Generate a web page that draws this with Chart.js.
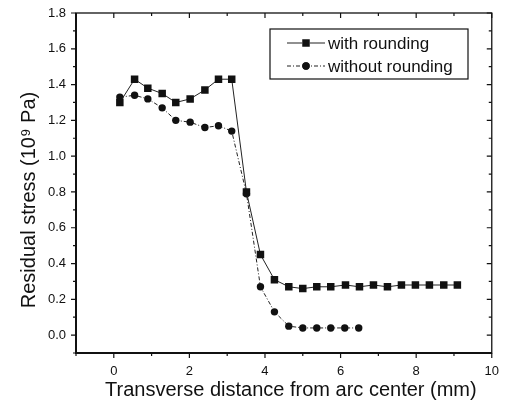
<!DOCTYPE html>
<html>
<head>
<meta charset="utf-8">
<script src="https://cdn.jsdelivr.net/npm/chart.js@4/dist/chart.umd.min.js"></script>
<style>
  html, body { margin: 0; padding: 0; background: #fff; }
  #wrap { width: 505px; height: 411px; }
</style>
</head>
<body>
<div id="wrap"><canvas id="stressChart" width="505" height="411"></canvas></div>
<script>
// values (x in mm, stress in 10^9 Pa)
const xWithRounding = [0.16, 0.55, 0.90, 1.28, 1.64, 2.02, 2.41, 2.77, 3.12, 3.51, 3.88, 4.25,
  4.63, 5.00, 5.37, 5.74, 6.13, 6.50, 6.87, 7.24, 7.61, 7.98, 8.35, 8.73, 9.09];
const yWithRounding = [1.30, 1.43, 1.38, 1.35, 1.30, 1.32, 1.37, 1.43, 1.43, 0.80, 0.45, 0.31,
  0.27, 0.26, 0.27, 0.27, 0.28, 0.27, 0.28, 0.27, 0.28, 0.28, 0.28, 0.28, 0.28];

const xWithoutRounding = [0.16, 0.55, 0.90, 1.28, 1.64, 2.02, 2.41, 2.77, 3.12, 3.51, 3.88, 4.25,
  4.63, 5.00, 5.37, 5.74, 6.11, 6.48];
const yWithoutRounding = [1.33, 1.34, 1.32, 1.27, 1.20, 1.19, 1.16, 1.17, 1.14, 0.79, 0.27, 0.13,
  0.05, 0.04, 0.04, 0.04, 0.04, 0.04];

const seriesNames = ['with rounding', 'without rounding'];
const xMajorLabels = [0, 2, 4, 6, 8, 10];
const yMajorLabels = ['0.0', '0.2', '0.4', '0.6', '0.8', '1.0', '1.2', '1.4', '1.6', '1.8'];
const xTitle = 'Transverse distance from arc center (mm)';
const yTitle = 'Residual stress (10\u2079 Pa)';

const pairUp = (xs, ys) => xs.map((x, i) => ({ x, y: ys[i] }));
const ink = '#111';
const family = '"Liberation Sans", Arial, sans-serif';

// box + tick marks on all four sides (out on left/bottom, in on top/right)
const frameTicks = {
  id: 'frameTicks',
  beforeDatasetsDraw(chart) {
    const { ctx, chartArea: a, scales: { x, y } } = chart;
    ctx.save();
    ctx.strokeStyle = ink;
    ctx.lineWidth = 1.3;
    ctx.strokeRect(a.left, a.top, a.right - a.left, a.bottom - a.top);
    ctx.lineWidth = 2;
    ctx.beginPath();
    ctx.moveTo(a.left, a.top); ctx.lineTo(a.left, a.bottom); ctx.lineTo(a.right, a.bottom);
    ctx.stroke();
    ctx.lineWidth = 1.2;
    ctx.beginPath();
    for (let v = -1; v <= 10; v++) {
      const px = x.getPixelForValue(v);
      const len = v % 2 === 0 ? 5 : 3;
      ctx.moveTo(px, a.bottom); ctx.lineTo(px, a.bottom + len);
      ctx.moveTo(px, a.top); ctx.lineTo(px, a.top + len);
    }
    for (let k = -1; k <= 18; k++) {
      const py = y.getPixelForValue(k / 10);
      const len = k % 2 === 0 ? 5 : 3;
      ctx.moveTo(a.left, py); ctx.lineTo(a.left - len, py);
      ctx.moveTo(a.right, py); ctx.lineTo(a.right - len, py);
    }
    ctx.stroke();

    // axis titles, placed like the scanned figure (a bit off-centre)
    ctx.fillStyle = ink;
    ctx.font = '20px ' + family;
    ctx.textAlign = 'center';
    ctx.textBaseline = 'middle';
    ctx.fillText(xTitle, (a.left + a.right) / 2 + 7, a.bottom + 37);
    ctx.translate(29, (a.top + a.bottom) / 2 + 17);
    ctx.rotate(-Math.PI / 2);
    ctx.fillText(yTitle, 0, 0);
    ctx.restore();
  }
};

// legend box drawn inside the plot, like the original
const boxLegend = {
  id: 'boxLegend',
  afterDatasetsDraw(chart) {
    const { ctx } = chart;
    const left = 270, top = 29, right = 468, bottom = 79;
    ctx.save();
    ctx.fillStyle = '#fff';
    ctx.fillRect(left, top, right - left, bottom - top);
    ctx.strokeStyle = ink;
    ctx.lineWidth = 1.2;
    ctx.strokeRect(left, top, right - left, bottom - top);
    chart.data.datasets.forEach((ds, i) => {
      const cy = i === 0 ? 43 : 66;
      ctx.strokeStyle = ds.borderColor;
      ctx.lineWidth = 1.2;
      ctx.setLineDash(ds.borderDash || []);
      ctx.beginPath();
      ctx.moveTo(287, cy); ctx.lineTo(325, cy);
      ctx.stroke();
      ctx.setLineDash([]);
      Chart.helpers.drawPoint(ctx, {
        pointStyle: ds.pointStyle, radius: ds.pointRadius, rotation: 0, borderWidth: 0
      }, 306, cy);
      ctx.fillStyle = ink;
      ctx.fill();
      ctx.font = '17px ' + family;
      ctx.textBaseline = 'middle';
      ctx.fillText(ds.label, 328, cy + 1);
    });
    ctx.restore();
  }
};

new Chart(document.getElementById('stressChart'), {
  type: 'line',
  data: {
    datasets: [{
      label: seriesNames[0],
      data: pairUp(xWithRounding, yWithRounding),
      borderColor: '#222',
      borderWidth: 1,
      pointStyle: 'rect',
      pointRadius: 5.3,
      pointBackgroundColor: ink,
      pointBorderColor: ink,
      pointBorderWidth: 0,
      tension: 0
    }, {
      label: seriesNames[1],
      data: pairUp(xWithoutRounding, yWithoutRounding),
      borderColor: '#222',
      borderWidth: 1,
      borderDash: [4, 2, 1, 2],
      pointStyle: 'circle',
      pointRadius: 3.7,
      pointBackgroundColor: ink,
      pointBorderColor: ink,
      pointBorderWidth: 0,
      tension: 0
    }]
  },
  options: {
    responsive: false,
    animation: false,
    layout: { padding: { top: 13, right: 8, left: 0, bottom: 0 } },
    plugins: { legend: { display: false }, tooltip: { enabled: false } },
    scales: {
      x: {
        type: 'linear',
        min: -1,
        max: 10,
        afterFit: (scale) => { scale.height = 58; },
        grid: { display: false, drawTicks: true, tickLength: 5 },
        border: { display: false },
        ticks: {
          stepSize: 1,
          padding: 6,
          color: ink,
          maxRotation: 0,
          autoSkip: false,
          font: { family, size: 13 },
          callback: (v) => xMajorLabels.includes(v) ? String(v) : ''
        }
      },
      y: {
        min: -0.1,
        max: 1.8,
        afterFit: (scale) => { scale.width = 76; },
        grid: { display: false, drawTicks: true, tickLength: 5 },
        border: { display: false },
        ticks: {
          stepSize: 0.1,
          padding: 5,
          color: ink,
          autoSkip: false,
          font: { family, size: 13 },
          callback: (v) => {
            const k = Math.round(v * 10);
            return k >= 0 && k % 2 === 0 ? yMajorLabels[k / 2] : '';
          }
        }
      }
    }
  },
  plugins: [frameTicks, boxLegend]
});
</script>
</body>
</html>
